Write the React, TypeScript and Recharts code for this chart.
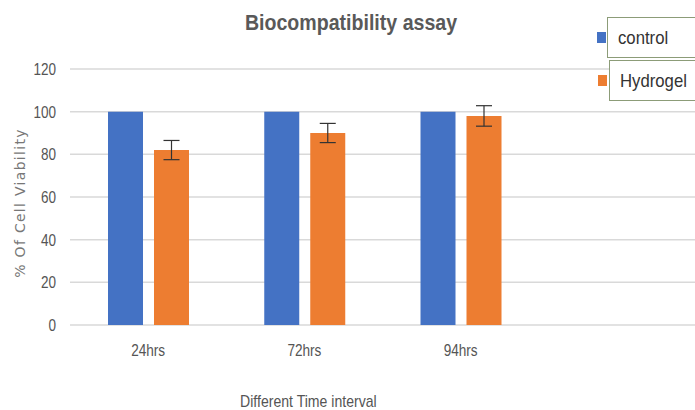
import { BarChart, Bar, XAxis, YAxis, CartesianGrid, ErrorBar, Label } from 'recharts';

const categories = ['24hrs', '72hrs', '94hrs', ''];
const controlValues = [100, 100, 100, null];
const hydrogelValues = [82, 90, 98, null];
const hydrogelErrors = [4.5, 4.5, 4.8, null];
const yTicks = [0, 20, 40, 60, 80, 100, 120];

const seriesInfo = [
  { key: 'control', name: 'control', color: '#4472C4' },
  { key: 'hydrogel', name: 'Hydrogel', color: '#ED7D31' },
];

const data = categories.map((c, i) => ({
  name: c,
  control: controlValues[i],
  hydrogel: hydrogelValues[i],
  hydrogelErr: hydrogelErrors[i],
}));

const sans = '"Liberation Sans", Arial, sans-serif';

// squeezed text so Liberation Sans looks closer to the narrow original font
function Squeezed({ x, y, children, size, scale, anchor, fill }: any) {
  return (
    <text
      x={0}
      y={0}
      transform={`translate(${x} ${y}) scale(${scale} 1)`}
      textAnchor={anchor}
      fontSize={size}
      fontFamily={sans}
      fill={fill}
    >
      {children}
    </text>
  );
}

function XTick({ x, y, payload }: any) {
  return (
    <Squeezed x={x} y={y + 11} size={17} scale={0.8} anchor="middle" fill="#555">
      {payload.value}
    </Squeezed>
  );
}

function YTick({ x, y, payload }: any) {
  return (
    <Squeezed x={x} y={y + 6} size={16.5} scale={0.82} anchor="end" fill="#555">
      {payload.value}
    </Squeezed>
  );
}

function LegendBoxes() {
  return (
    <div style={{ position: 'absolute', left: 597, top: 17 }}>
      {seriesInfo.map((s, i) => (
        <div key={s.key} style={{ position: 'absolute', left: i * 1, top: i * 43 }}>
          <span
            style={{
              position: 'absolute',
              left: 0,
              top: 15,
              width: 9,
              height: 11,
              background: s.color,
            }}
          />
          <div
            style={{
              position: 'absolute',
              left: 10 + i * 1,
              top: 0,
              width: 110,
              height: 41,
              border: '1px solid #8c9c78',
              boxSizing: 'border-box',
              background: '#fff',
            }}
          >
            <div
              style={{
                position: 'absolute',
                left: 10,
                top: 9,
                fontFamily: sans,
                fontSize: 19,
                color: '#333',
                transform: 'scaleX(0.88)',
                transformOrigin: 'left center',
                whiteSpace: 'nowrap',
              }}
            >
              {s.name}
            </div>
          </div>
        </div>
      ))}
    </div>
  );
}

export default function App() {
  return (
    <div style={{ position: 'fixed', top: 0, left: 0, width: 695, height: 410, overflow: 'hidden', background: '#fff' }}>
      <BarChart
        width={695}
        height={410}
        data={data}
        margin={{ top: 69, right: 0, bottom: 55, left: 10 }}
        barSize={35}
        barGap={11}
      >
        <CartesianGrid vertical={false} stroke="#d9d9d9" strokeWidth={1.5} />
        <XAxis
          dataKey="name"
          height={30}
          axisLine={false}
          tickLine={false}
          tickSize={0}
          tickMargin={20}
          tick={<XTick />}
        >
          <Label
            content={({ viewBox }: any) => (
              <Squeezed
                x={viewBox.x + (viewBox.width / categories.length) * 1.5 + 4}
                y={viewBox.y + 82}
                size={16}
                scale={0.88}
                anchor="middle"
                fill="#555"
              >
                Different Time interval
              </Squeezed>
            )}
          />
        </XAxis>
        <YAxis
          width={60}
          domain={[0, 120]}
          ticks={yTicks}
          axisLine={false}
          tickLine={false}
          tickSize={0}
          tickMargin={14}
          tick={<YTick />}
        >
          <Label
            content={({ viewBox }: any) => {
              const cy = viewBox.y + viewBox.height / 2 + 6;
              return (
                <text
                  x={25}
                  y={cy}
                  transform={`rotate(-90 25 ${cy})`}
                  textAnchor="middle"
                  fill="#777"
                  fontSize={14}
                  letterSpacing={1.3}
                  fontFamily='"DejaVu Sans", sans-serif'
                >
                  % Of Cell Viability
                </text>
              );
            }}
          />
        </YAxis>
        <Bar dataKey="control" name="control" fill={seriesInfo[0].color} isAnimationActive={false} />
        <Bar dataKey="hydrogel" name="Hydrogel" fill={seriesInfo[1].color} isAnimationActive={false}>
          <ErrorBar dataKey="hydrogelErr" width={8} stroke="#333" strokeWidth={1.2} />
        </Bar>
      </BarChart>
      <div
        style={{
          position: 'absolute',
          top: 10,
          left: 0,
          width: 702,
          textAlign: 'center',
          fontFamily: sans,
          fontWeight: 'bold',
          fontSize: 22,
          color: '#595959',
          transform: 'scaleX(0.89)',
        }}
      >
        Biocompatibility assay
      </div>
      <LegendBoxes />
    </div>
  );
}
